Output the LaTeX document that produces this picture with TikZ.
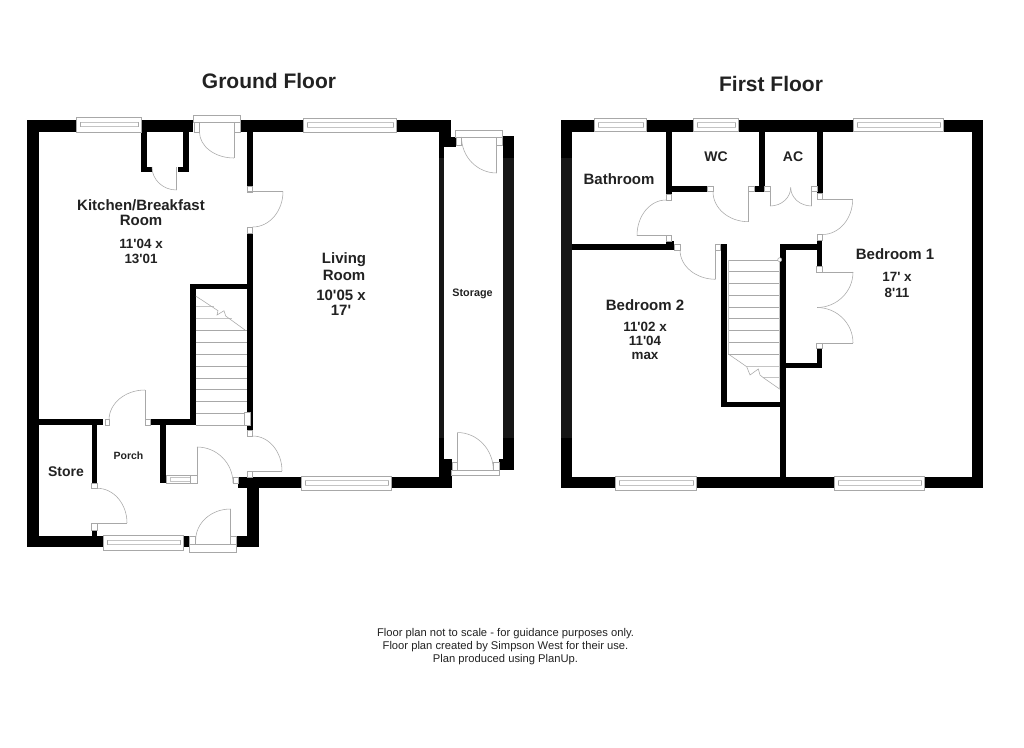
\documentclass[tikz,border=0pt]{standalone}
\usepackage{fontspec}
\setmainfont{Liberation Sans}[Ligatures=TeXOff]
\definecolor{wallc}{HTML}{000000}
\definecolor{wallm}{HTML}{161616}
\definecolor{linec}{HTML}{A8A8A8}
\definecolor{linef}{HTML}{C4C4C4}
\definecolor{txtc}{HTML}{222222}
\tikzset{
  wallfill/.style={fill=wallc,draw=none},
  wallmid/.style={fill=wallm,draw=none},
  fine/.style={draw=linec,line width=0.55pt},
  faint/.style={draw=linef,line width=0.6pt},
  title/.style={font=\bfseries\fontsize{21}{22}\selectfont,text=txtc,inner sep=0pt,anchor=center},
  lab/.style={font=\bfseries\fontsize{15}{16}\selectfont,text=txtc,inner sep=0pt,anchor=center},
  lab2/.style={font=\bfseries\fontsize{14}{15}\selectfont,text=txtc,inner sep=0pt,anchor=center},
  dim/.style={font=\bfseries\fontsize{13.4}{14}\selectfont,text=txtc,inner sep=0pt,anchor=center},
  tiny/.style={font=\bfseries\fontsize{10.5}{12}\selectfont,text=txtc,inner sep=0pt,anchor=center},
  foot/.style={font=\fontsize{11.2}{12}\selectfont,text=txtc,inner sep=0pt,anchor=center},
}
\newcommand{\WallR}[4]{\fill[wallfill] (#1,#2) rectangle (#3,#4);}
\newcommand{\JambR}[4]{\draw[fine,fill=white] (#1,#2) rectangle (#3,#4);}
% quarter arc: leaves A horizontally, arrives at B vertically
\newcommand{\Qarc}[4]{%
  \pgfmathsetmacro{\qax}{#1+0.5523*(#3-#1)}%
  \pgfmathsetmacro{\qby}{#4-0.5523*(#4-#2)}%
  \draw[fine] (#1,#2) .. controls (\qax,#2) and (#3,\qby) .. (#3,#4);}
\newcommand{\Leaf}[4]{\draw[fine] (#1,#2) -- (#3,#4);}
% horizontal window: x1 y1 x2 y2
\newcommand{\WinH}[4]{%
  \pgfmathsetmacro{\winxa}{#1+4}\pgfmathsetmacro{\winxb}{#3-3}%
  \pgfmathsetmacro{\winya}{#2+4.5}\pgfmathsetmacro{\winyb}{#2+9}%
  \draw[fine,fill=white] (#1,#2) rectangle (#3,#4);
  \draw[faint] (\winxa,\winya) rectangle (\winxb,\winyb);
  \draw[fine] (\winxa,\winya) -- (\winxa,\winyb) (\winxb,\winya) -- (\winxb,\winyb);}
\begin{document}
\begin{tikzpicture}[x=1pt,y=-1pt]
\useasboundingbox (0,0) rectangle (1024,747);
\fill[white] (0,0) rectangle (1024,747);
% ---------- Ground floor walls
\WallR{27}{120}{39.3}{547}
\WallR{27}{120}{75.7}{132}
\WallR{141}{120}{193.3}{132}
\WallR{141}{132}{147.3}{172}
\WallR{141}{167}{151.7}{172}
\WallR{183}{132}{188.5}{172}
\WallR{178.3}{167}{188.5}{172}
\WallR{240.5}{120}{303}{132}
\WallR{397}{120}{450.5}{132}
\WallR{247.3}{132}{252.7}{186}
\WallR{247.3}{233}{252.7}{430}
\WallR{190}{283.5}{252.7}{289}
\WallR{190}{283.5}{195.7}{425}
\WallR{27}{419.3}{103}{425}
\WallR{150.7}{419.3}{195.7}{425}
\WallR{91.7}{419.3}{97.3}{482.7}
\WallR{91.7}{530}{97.3}{540}
\WallR{27}{536}{102.7}{547}
\WallR{160}{419.3}{166}{483}
\WallR{238.3}{477}{301}{488.3}
\WallR{392}{477}{451}{488.3}
\WallR{247.3}{477}{259}{547.3}
\WallR{236}{536}{259}{547.3}
\WallR{183.3}{536}{189}{547.3}
% living / storage wall
\WallR{438.5}{120}{450.5}{147}
\WallR{438.5}{147}{444.4}{459}
\WallR{450}{136.5}{455.7}{147}
\WallR{438.5}{459}{451.7}{488.3}
\fill[wallmid] (438.5,158) rectangle (444.4,438);
% storage outer wall
\WallR{502.7}{136}{514}{470}
\WallR{499}{459.3}{514}{470}
\fill[wallmid] (502.7,158) rectangle (514,438);
% ---------- Ground floor windows
\WinH{76}{117.5}{141}{132}
\WinH{303}{118}{396.7}{132}
\WinH{301}{476}{391.7}{490}
\WinH{103}{535.5}{183.3}{550}
% meter box
\draw[fine,fill=white] (166,475) rectangle (197,483);
\draw[faint] (170,477) rectangle (190,481);
\draw[fine] (190,475) -- (190,483);
% door frames ground
\JambR{193.3}{115}{240.5}{122}
\JambR{193.8}{122}{199.5}{132}
\JambR{234.5}{122}{240.3}{132}
\JambR{247.3}{186}{252.7}{192}
\JambR{247.3}{227}{252.7}{233}
\JambR{105}{419.3}{109}{425}
\JambR{145}{419.3}{150.7}{425}
\JambR{91.7}{483}{97.3}{488.3}
\JambR{91.7}{523.5}{97.3}{530}
\JambR{233}{477}{238.3}{483}
\JambR{247.3}{430}{252.7}{436}
\JambR{247.3}{471}{252.7}{477}
\JambR{189.3}{544}{236}{552}
\JambR{189.6}{536}{195.5}{544}
\JambR{230.5}{536}{236}{544}
\JambR{455.7}{130}{502.5}{137}
\JambR{456}{137}{461.5}{145}
\JambR{496.7}{137}{502.5}{145}
\JambR{451.7}{470}{499}{475}
\JambR{452}{462}{457.3}{470}
\JambR{493.3}{462}{499}{470}
% doors ground
\Leaf{176.5}{167}{176.5}{190}\Qarc{176.5}{190}{152}{167}
\Leaf{234}{132}{234}{158}\Qarc{234}{158}{199.5}{132}
\Leaf{247}{191.5}{283}{191.5}\Qarc{252.7}{227}{283}{191.5}
\Leaf{145}{390}{145}{420}\Qarc{145}{390}{109}{420}
\Leaf{92}{523}{127}{523}\Qarc{97.3}{488.3}{127}{523}
\Leaf{247}{471}{282}{471}\Qarc{252.7}{436}{282}{471}
\Leaf{197}{447}{197}{483}\Qarc{197}{447}{233}{483}
\Leaf{230.5}{509}{230.5}{540}\Qarc{230.5}{509}{195.7}{540}
\Leaf{496.7}{137}{496.7}{173}\Qarc{496.7}{173}{461.5}{137}
\Leaf{457.3}{432.5}{457.3}{470}\Qarc{457.3}{432.5}{493.3}{470}
% stairs ground
\foreach \ty in {330,342,354,366,378,389,401,413,425}{\draw[fine] (195.7,\ty) -- (247.3,\ty);}
\draw[faint] (195.7,306.7) -- (214,306.7);
\draw[faint] (195.7,318.5) -- (232,318.5);
\draw[fine] (195.7,296) -- (218,310.7) -- (217,315) -- (224,310.7) -- (225.7,316) -- (245,330);
\JambR{244}{412}{250}{425}
% ---------- First floor walls
\WallR{560.7}{120}{571.7}{488.3}
\WallR{560.7}{120}{594.3}{131.7}
\WallR{646}{120}{693}{131.7}
\WallR{738.5}{120}{853}{131.7}
\WallR{943}{120}{983.3}{131.7}
\WallR{971.7}{120}{983.3}{488.3}
\WallR{560.7}{476.7}{615.7}{488.3}
\WallR{696}{476.7}{834.3}{488.3}
\WallR{924}{476.7}{983.3}{488.3}
\WallR{780}{244}{786}{477}
\WallR{720.7}{244}{726.7}{407.3}
\WallR{720.7}{401.7}{786}{407.3}
\WallR{780}{244}{822.3}{250}
\WallR{816.7}{240}{822.3}{266}
\WallR{816.7}{348}{822.3}{368}
\WallR{786}{362.7}{822.3}{368}
\WallR{665.7}{131}{671.7}{194}
\WallR{665.7}{186}{707.7}{191.7}
\WallR{754}{186}{764.7}{191.7}
\WallR{759}{131}{764.7}{191.7}
\WallR{817.3}{131}{822.7}{193.3}
\WallR{571}{244}{674}{250}
\WallR{666}{241}{674}{250}
\fill[wallmid] (560.7,158) rectangle (571.7,438);
% ---------- First floor windows
\WinH{594.3}{118}{646}{131.7}
\WinH{693}{118}{738.5}{131.7}
\WinH{853}{118}{943}{131.7}
\WinH{615.7}{476}{696}{490}
\WinH{834.3}{476}{924}{490}
% door frames first
\JambR{707.7}{186}{713}{191.7}
\JambR{748.3}{186}{754}{191.7}
\JambR{764.7}{186}{770}{191.7}
\JambR{811.7}{186}{817.3}{191.7}
\JambR{817.3}{193.3}{822.7}{199}
\JambR{817.3}{234.5}{822.7}{240}
\JambR{666}{194}{671.7}{200}
\JambR{666}{235.7}{671.7}{241}
\JambR{674}{244}{680}{250}
\JambR{715.7}{244}{720.7}{250}
\JambR{816.7}{266}{822.3}{272}
\JambR{816.7}{343}{822.3}{348}
% doors first
\Leaf{748.3}{191}{748.3}{221.7}\Qarc{748.3}{221.7}{713}{191.7}
\Leaf{770}{191.7}{770}{206}\Qarc{770}{206}{790.7}{187.5}
\Leaf{811.7}{191.7}{811.7}{206}\Qarc{811.7}{206}{790.7}{187.5}
\Leaf{817}{199}{852.7}{199}\Qarc{822.5}{234.5}{852.7}{199}
\Leaf{817}{272}{853}{272}\Qarc{817}{307.5}{853}{272}
\Leaf{817}{343}{853}{343}\Qarc{817}{307.5}{853}{343}
\Leaf{637}{235.5}{666}{235.5}\Qarc{666}{200}{637}{235.5}
\Leaf{715.7}{244}{715.7}{279.3}\Qarc{715.7}{279.3}{680}{250}
% stairs first
\foreach \ty in {260,271.7,283.3,295,307,318.7,330.3,342.3,354}{\draw[fine] (728.3,\ty) -- (779,\ty);}
\draw[faint] (746.7,366.7) -- (779,366.7);
\draw[faint] (763.3,377.7) -- (779,377.7);
\draw[fine] (728.3,354) -- (746.7,366.7) -- (750,375) -- (758.3,369) -- (760,375) -- (763.3,377.7) -- (780,389.3);
\draw[faint] (728.3,260) -- (728.3,354);
\draw[faint] (779,260) -- (779,389);
\draw[fine,fill=white] (779.7,259.7) circle (2);
% ---------- Texts
\node[title] (tg) at (269,81) {Ground Floor};
\node[title] (tf) at (771,84) {First Floor};
\node[lab] (k1) at (141,205) {Kitchen/Breakfast};
\node[lab] (k2) at (141,220) {Room};
\node[dim] (k3) at (141,244) {11'04 x};
\node[dim] (k4) at (141,258.5) {13'01};
\node[lab] (l1) at (344,260) {Living};
\node[lab] (l2) at (344,275) {Room};
\node[lab] (l3) at (341,295) {10'05 x};
\node[lab] (l4) at (341,310) {17'};
\node[tiny,font=\bfseries\fontsize{10.8}{12}\selectfont] (st) at (472.5,294) {Storage};
\node[tiny] (po) at (128.5,456) {Porch};
\node[lab2] (so) at (66,472) {Store};
\node[lab] (ba) at (619,179.5) {Bathroom};
\node[lab2] (wc) at (716,157) {WC};
\node[lab2] (ac) at (793,157) {AC};
\node[lab] (b1) at (895,254) {Bedroom 1};
\node[dim] (b1a) at (897,276.5) {17' x};
\node[dim] (b1b) at (897,293) {8'11};
\node[lab] (b2) at (645,305) {Bedroom 2};
\node[dim] (b2a) at (645,327) {11'02 x};
\node[dim] (b2b) at (645,341) {11'04};
\node[dim] (b2c) at (645,356) {max};
\node[foot] (f1) at (505.5,634) {Floor plan not to scale - for guidance purposes only.};
\node[foot] (f2) at (505.5,647) {Floor plan created by Simpson West for their use.};
\node[foot] (f3) at (505.5,660) {Plan produced using PlanUp.};
\end{tikzpicture}
\end{document}
